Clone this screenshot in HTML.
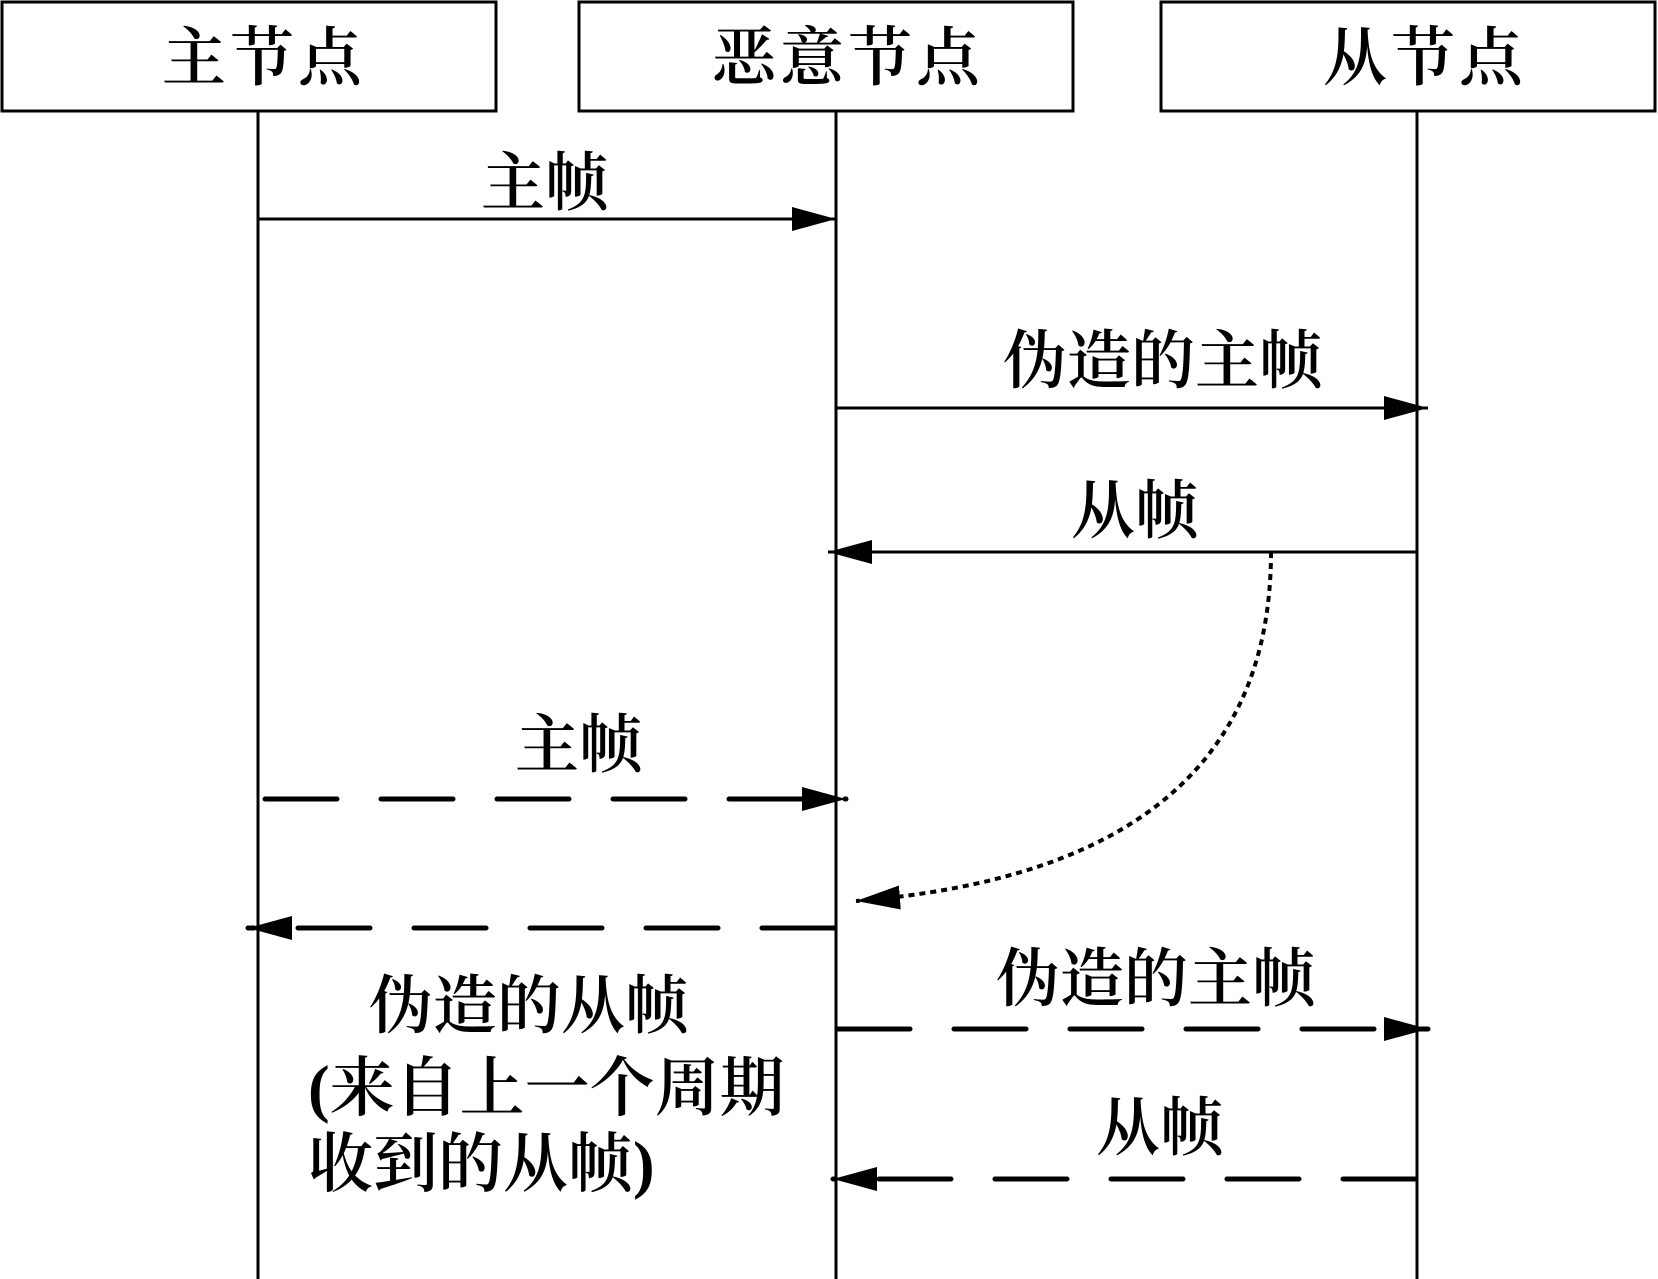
<!DOCTYPE html>
<html><head><meta charset="utf-8"><style>
html,body{margin:0;padding:0;background:#fff;}
svg{display:block;}
text{font-family:"Liberation Serif","Noto Serif CJK SC",serif;font-weight:600;fill:#000;}
</style></head><body>
<svg width="1658" height="1279" viewBox="0 0 1658 1279" xmlns="http://www.w3.org/2000/svg">
<defs>
<marker id="a" markerWidth="44" markerHeight="24" refX="44" refY="12" orient="auto" markerUnits="userSpaceOnUse">
<path d="M0,0 L44,12 L0,24 Z" fill="#000"/></marker>
</defs>
<g fill="none" stroke="#000" stroke-width="3">
<rect x="2" y="2" width="494" height="109"/>
<rect x="579" y="2" width="494" height="109"/>
<rect x="1161" y="2" width="494" height="109"/>
<line x1="258" y1="111" x2="258" y2="1279"/>
<line x1="836" y1="111" x2="836" y2="1279"/>
<line x1="1417" y1="111" x2="1417" y2="1279"/>
<line x1="258" y1="219" x2="836" y2="219" marker-end="url(#a)"/>
<line x1="836" y1="408" x2="1428" y2="408" marker-end="url(#a)"/>
<line x1="1417" y1="552" x2="828" y2="552" marker-end="url(#a)"/>
<path d="M1271,552 Q1271,868 856,901" stroke-width="4" stroke-dasharray="6,5" marker-end="url(#a)"/>
<g stroke-width="5" stroke-dasharray="72,44" stroke-linecap="round">
<line x1="265" y1="799" x2="846" y2="799" marker-end="url(#a)"/>
<line x1="834" y1="928" x2="248" y2="928" marker-end="url(#a)"/>
<line x1="838" y1="1029" x2="1428" y2="1029" marker-end="url(#a)"/>
<line x1="1415" y1="1179" x2="833" y2="1179" marker-end="url(#a)"/>
</g>
</g>
<g font-size="64" text-anchor="middle">
<text x="264" y="80" letter-spacing="4">主节点</text>
<text x="848" y="80" letter-spacing="4">恶意节点</text>
<text x="1425" y="80" letter-spacing="4">从节点</text>
<text x="545" y="205">主帧</text>
<text x="1163" y="383">伪造的主帧</text>
<text x="1135" y="533">从帧</text>
<text x="579" y="767">主帧</text>
<text x="1156" y="1001">伪造的主帧</text>
<text x="1160" y="1150">从帧</text>
<text x="529" y="1028">伪造的从帧</text>
</g>
<g font-size="65">
<text x="308" y="1110">(来自上一个周期</text>
<text x="308" y="1186">收到的从帧)</text>
</g>
</svg>
</body></html>
